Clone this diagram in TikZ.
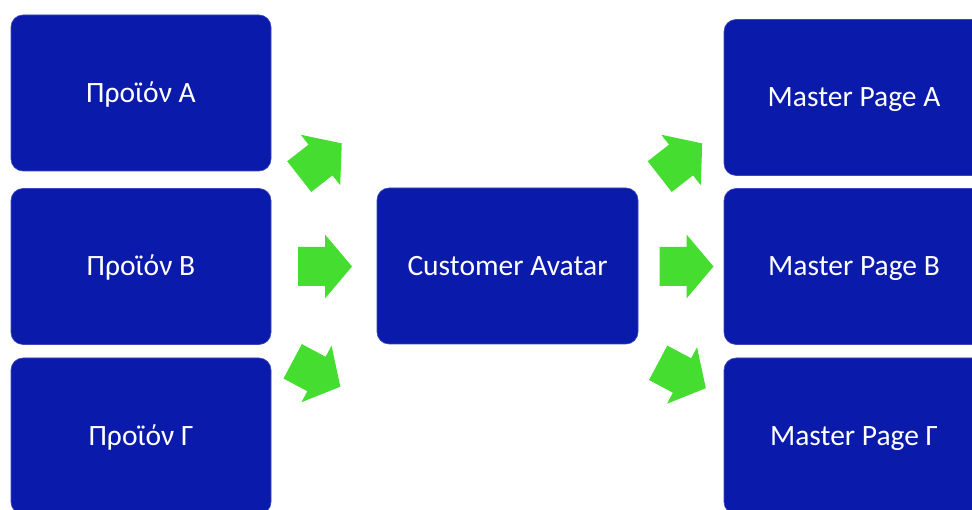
\documentclass[tikz,border=0pt]{standalone}
\usepackage{fontspec}
\setmainfont{Carlito}
\definecolor{boxblue}{RGB}{10,26,170}
\definecolor{arrowgreen}{RGB}{68,221,48}
\begin{document}
\begin{tikzpicture}[x=1pt,y=1pt,
  blockbox/.style={fill=boxblue, draw=boxblue!80!white, line width=0.6pt, rounded corners=12pt,
    minimum width=260pt, minimum height=156pt, inner sep=0pt,
    text=white, font=\fontsize{29.5}{32}\selectfont, text height=19pt, text depth=0pt},
  blockarrow/.pic={\fill[arrowgreen] (-27,-19.5) -- (0,-19.5) -- (0,-32) -- (27,0) -- (0,32) -- (0,19.5) -- (-27,19.5) -- cycle;}]
\useasboundingbox (0,0) rectangle (972,509);
\clip (0,0) rectangle (972,509);
\fill[white] (0,0) rectangle (972,509);
% left column
\node[blockbox] (pa) at (141,416) {Προϊόν Α};
\node[blockbox] (pb) at (141,242.5) {Προϊόν Β};
\node[blockbox] (pc) at (141,73) {Προϊόν Γ};
% center
\node[blockbox, minimum width=261pt] (ca) at (507.5,243) {Customer Avatar};
% right column
\node[blockbox] (ma) at (854,411.5) {Master Page A};
\node[blockbox] (mb) at (854,242.5) {Master Page B};
\node[blockbox] (mc) at (854,73) {Master Page Γ};
% arrows
\pic[rotate=38] at (320.5,349) {blockarrow};
\pic at (325,242.5) {blockarrow};
\pic[rotate=-28] at (316.5,135) {blockarrow};
\pic[rotate=38] at (681,349) {blockarrow};
\pic at (686.5,242.5) {blockarrow};
\pic[rotate=-28] at (682,133.5) {blockarrow};
\end{tikzpicture}
\end{document}
